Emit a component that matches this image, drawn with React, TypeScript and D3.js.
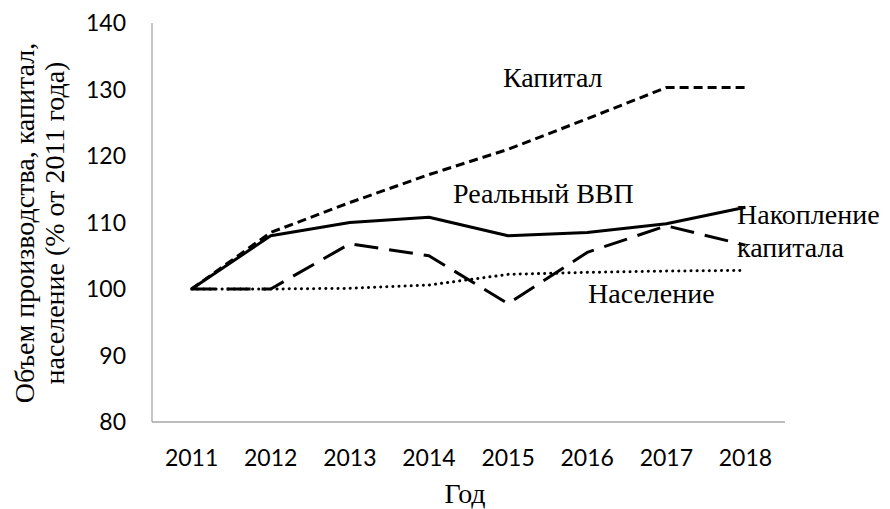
import React from 'react'
import * as d3 from 'd3'

const years = ['2011', '2012', '2013', '2014', '2015', '2016', '2017', '2018']
const capital = [100, 108.5, 113, 117.2, 121, 125.6, 130.3, 130.3]
const realGdp = [100, 108, 110, 110.8, 108, 108.5, 109.8, 112.3]
const investment = [100, 100, 106.8, 105, 97.8, 105.5, 109.5, 106.6]
const population = [100, 100, 100.1, 100.6, 102.2, 102.5, 102.7, 102.8]
const yTicks = [80, 90, 100, 110, 120, 130, 140]

const series = [
  { name: 'capital', values: capital, dash: '9,5', cap: 'butt' },
  { name: 'gdp', values: realGdp, dash: null, cap: 'butt' },
  { name: 'investment', values: investment, dash: '24,11', cap: 'butt' },
  { name: 'population', values: population, dash: '0.1,6', cap: 'round' },
]

const W = 890
const H = 509
const left = 152
const right = 785
const top = 23
const bottom = 422

export default function App() {
  const x = d3.scaleBand().domain(years).range([left, right])
  const y = d3.scaleLinear().domain([80, 140]).range([bottom, top])
  const cx = (d: string) => (x(d) as number) + x.bandwidth() / 2
  const line = d3.line<number>().x((_, i) => cx(years[i])).y(d => y(d))

  const serif = { fontFamily: "'Liberation Serif', 'DejaVu Serif', serif", fontSize: '28px' }
  const sans = { fontFamily: "Lato, 'Open Sans', sans-serif", fontSize: '23px' }

  return (
    <svg width={W} height={H} style={{ position: 'absolute', left: 0, top: 0 }}>
      <rect width={W} height={H} fill="#fff" />
      <line x1={left} x2={left} y1={top} y2={bottom} stroke="#a6a6a6" strokeWidth={1.3} />
      <line x1={left} x2={right} y1={bottom} y2={bottom} stroke="#a6a6a6" strokeWidth={1.3} />
      {yTicks.map(t => (
        <text key={t} x={126} y={y(t)} dy="0.36em" textAnchor="end" style={sans} fill="#000">
          {t}
        </text>
      ))}
      {years.map(yr => (
        <text key={yr} x={cx(yr)} y={466} textAnchor="middle" style={sans} fill="#000">
          {yr}
        </text>
      ))}
      {series.map(s => (
        <path
          key={s.name}
          d={line(s.values) || ''}
          fill="none"
          stroke="#000"
          strokeWidth={3}
          strokeDasharray={s.dash || undefined}
          strokeLinecap={s.cap as any}
          strokeLinejoin="round"
        />
      ))}
      <g style={serif} fill="#000">
        <text x={503} y={87}>Капитал</text>
        <text x={453} y={203}>Реальный ВВП</text>
        <text x={737} y={224}>Накопление</text>
        <text x={737} y={257}>капитала</text>
        <text x={588} y={303}>Население</text>
        <text x={465} y={503} textAnchor="middle">Год</text>
        <g transform="translate(0,223) rotate(-90)">
          <text x={0} y={34} textAnchor="middle">Объем производства, капитал,</text>
          <text x={0} y={64} textAnchor="middle">население (% от 2011 года)</text>
        </g>
      </g>
    </svg>
  )
}
